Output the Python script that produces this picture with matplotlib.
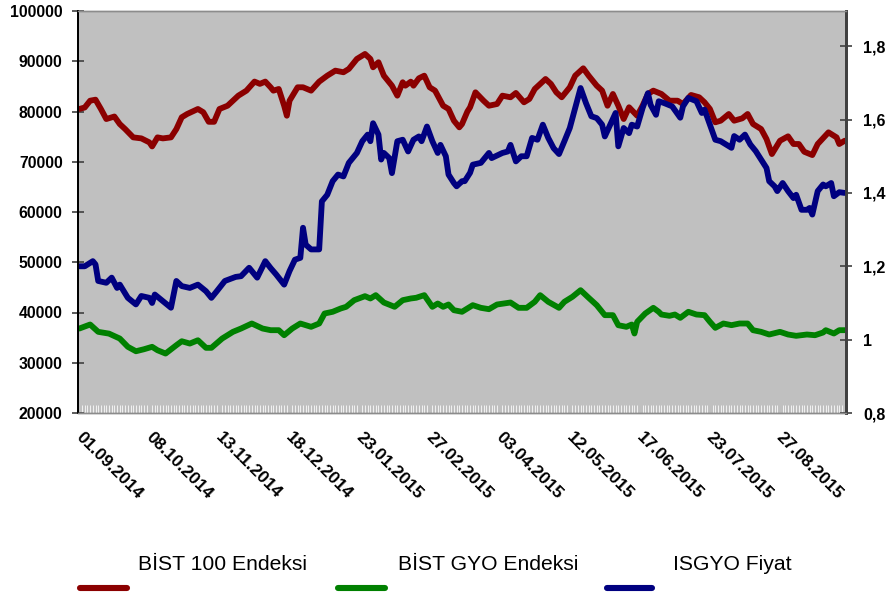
import matplotlib
matplotlib.use("Agg")
import matplotlib.pyplot as plt
from matplotlib.lines import Line2D

plt.rcParams['font.family'] = ['Liberation Sans', 'DejaVu Sans']

# ---------------- data ----------------
n_days = 285
date_labels = ["01.09.2014", "08.10.2014", "13.11.2014", "18.12.2014", "23.01.2015",
               "27.02.2015", "03.04.2015", "12.05.2015", "17.06.2015", "23.07.2015",
               "27.08.2015"]
label_days = [0, 26, 52, 78, 104, 130, 156, 182, 208, 234, 260]

bist100_days = [0, 2, 4, 6, 8, 10, 13, 15, 17, 20, 23, 26, 27, 29, 31, 34, 36, 38, 40, 44,
                46, 48, 50, 52, 55, 59, 62, 65, 67, 69, 71, 72, 74, 76, 77, 78, 81, 83, 86, 89,
                92, 95, 98, 100, 103, 106, 108, 109, 111, 113, 116, 118, 120, 121, 123, 124,
                126, 128, 130, 132, 135, 137, 139, 141, 142, 144, 145, 147, 150, 152, 155,
                157, 160, 162, 165, 167, 169, 173, 175, 177, 179, 182, 184, 187, 189, 192,
                194, 196, 198, 200, 202, 204, 207, 209, 211, 213, 216, 219, 222, 224, 227,
                230, 232, 234, 236, 238, 241, 243, 246, 248, 250, 253, 255, 257, 260, 263,
                265, 267, 269, 272, 274, 278, 281, 282, 284]
bist100 = [80500, 80800, 82150, 82350, 80500, 78500, 79000, 77500, 76500, 74850, 74650,
           73850, 73050, 74850, 74650, 74850, 76500, 78850, 79500, 80500, 79850, 77950,
           77950, 80500, 81150, 83150, 84150, 85950, 85500, 85950, 84800, 84150, 84480,
           81150, 79160, 82150, 84820, 84820, 84150, 85940, 87130, 88130, 87810, 88470,
           90460, 91450, 90460, 88800, 89800, 87130, 85140, 83150, 85820, 85140, 85940,
           85140, 86610, 87130, 84820, 84150, 81150, 80500, 78170, 76850, 77500, 80000,
           80840, 83820, 82150, 81150, 81490, 83150, 82830, 83690, 81830, 82490, 84480,
           86470, 85480, 83820, 82830, 84820, 87130, 88600, 87130, 85140, 84150, 81150,
           83490, 81150, 78510, 80840, 79160, 81150, 83490, 84150, 83490, 82150, 82150,
           81490, 83290, 82830, 81830, 80500, 77850, 78170, 79500, 78170, 78640, 79500,
           77510, 76510, 74520, 71530, 74180, 75060, 73530, 73530, 71990, 71330, 73530,
           75850, 74850, 73530, 74180]

gyo_days = [0, 4, 7, 11, 15, 18, 21, 24, 27, 29, 32, 36, 38, 41, 44, 47, 49, 53, 57, 60,
            64, 68, 71, 74, 76, 79, 82, 86, 89, 91, 94, 97, 99, 102, 106, 108, 110, 113,
            117, 120, 123, 125, 128, 131, 133, 135, 137, 139, 142, 144, 146, 149, 152, 155,
            160, 163, 166, 169, 171, 174, 178, 180, 183, 186, 189, 192, 195, 198, 200, 203,
            205, 206, 207, 210, 213, 215, 216, 219, 221, 223, 226, 229, 232, 234, 236, 239,
            242, 245, 248, 250, 253, 256, 260, 263, 266, 270, 273, 276, 277, 280, 282, 284]
gyo = [36810, 37610, 36150, 35800, 34820, 33170, 32290, 32690, 33170, 32490, 31830, 33490,
       34280, 33820, 34480, 32970, 32970, 34820, 36150, 36810, 37810, 36810, 36480, 36480,
       35480, 36810, 37810, 37150, 37810, 39800, 40140, 40800, 41130, 42450, 43250, 42790,
       43450, 41990, 41130, 42450, 42790, 42930, 43450, 41130, 41790, 41130, 41590, 40460,
       40140, 40800, 41460, 40930, 40660, 41590, 41990, 40930, 40930, 42130, 43450, 42130,
       40930, 42130, 43130, 44440, 42930, 41460, 39470, 39470, 37470, 37150, 37610, 35820,
       38140, 39800, 40930, 40140, 39600, 39340, 39600, 38940, 40140, 39600, 39470, 38150,
       36950, 37810, 37480, 37810, 37810, 36480, 36150, 35620, 36150, 35620, 35360, 35620,
       35480, 36020, 36480, 35820, 36480, 36480]

isgyo_days = [0, 2, 5, 6, 7, 10, 12, 14, 15, 18, 21, 23, 26, 27, 28, 31, 34, 36, 38, 41,
              44, 47, 49, 51, 54, 58, 60, 63, 66, 69, 71, 73, 76, 78, 80, 82, 83, 84, 86,
              89, 90, 92, 94, 96, 98, 100, 102, 103, 105, 107, 108, 109, 111, 112, 113, 115,
              116, 118, 120, 122, 124, 126, 127, 129, 131, 133, 134, 136, 137, 139, 140,
              142, 143, 145, 146, 149, 152, 153, 157, 159, 160, 162, 164, 166, 168, 170,
              172, 174, 176, 178, 180, 182, 184, 186, 188, 190, 192, 194, 195, 197, 199,
              200, 202, 204, 205, 207, 209, 211, 212, 214, 215, 217, 220, 223, 224, 226,
              229, 231, 232, 234, 236, 238, 240, 242, 243, 245, 247, 249, 251, 253, 255,
              256, 258, 259, 261, 263, 265, 266, 268, 270, 271, 272, 274, 276, 277, 279,
              280, 282, 284]
isgyo = [1.200, 1.200, 1.214, 1.205, 1.160, 1.155, 1.169, 1.141, 1.150, 1.114, 1.096, 1.119,
         1.114, 1.100, 1.123, 1.105, 1.087, 1.160, 1.146, 1.141, 1.150, 1.132, 1.114, 1.132,
         1.160, 1.171, 1.173, 1.196, 1.169, 1.214, 1.195, 1.178, 1.150, 1.187, 1.218, 1.223,
         1.305, 1.259, 1.246, 1.246, 1.377, 1.395, 1.432, 1.450, 1.445, 1.482, 1.500, 1.509,
         1.541, 1.559, 1.541, 1.590, 1.559, 1.491, 1.509, 1.495, 1.454, 1.541, 1.545, 1.513,
         1.545, 1.554, 1.541, 1.581, 1.541, 1.509, 1.531, 1.500, 1.450, 1.427, 1.418, 1.432,
         1.432, 1.455, 1.477, 1.482, 1.509, 1.495, 1.509, 1.513, 1.531, 1.486, 1.500, 1.500,
         1.550, 1.545, 1.586, 1.550, 1.522, 1.506, 1.541, 1.577, 1.631, 1.686, 1.645, 1.609,
         1.604, 1.586, 1.554, 1.586, 1.618, 1.527, 1.577, 1.563, 1.586, 1.581, 1.631, 1.672,
         1.640, 1.613, 1.650, 1.645, 1.636, 1.605, 1.636, 1.659, 1.650, 1.618, 1.627, 1.586,
         1.545, 1.541, 1.532, 1.523, 1.555, 1.545, 1.559, 1.532, 1.514, 1.491, 1.468, 1.432,
         1.418, 1.405, 1.427, 1.405, 1.386, 1.395, 1.354, 1.354, 1.359, 1.341, 1.405, 1.423,
         1.418, 1.427, 1.391, 1.402, 1.400]

series_names = ["BİST 100 Endeksi", "BİST GYO Endeksi", "ISGYO Fiyat"]
left_ticks = [20000, 30000, 40000, 50000, 60000, 70000, 80000, 90000, 100000]
right_ticks = [0.8, 1.0, 1.2, 1.4, 1.6, 1.8]
right_tick_labels = ["0,8", "1", "1,2", "1,4", "1,6", "1,8"]

# ---------------- style ----------------
c_red = "#8B0000"
c_green = "#008000"
c_blue = "#000080"
bg = "#C0C0C0"
lw = 4.2

fig = plt.figure(figsize=(8.87, 5.93), dpi=100)
ax = fig.add_axes([78 / 887, 1 - 413 / 593, (846 - 78) / 887, (413 - 11) / 593])
ax.set_facecolor(bg)
ax2 = ax.twinx()

line_kw = dict(lw=lw, solid_joinstyle="round", solid_capstyle="round")
ax.plot(bist100_days, bist100, color=c_red, **line_kw)
ax.plot(gyo_days, gyo, color=c_green, **line_kw)
ax2.plot(isgyo_days, isgyo, color=c_blue, **line_kw)

ax.set_xlim(-0.5, n_days - 0.5)
ax.set_ylim(20000, 100000)
ax2.set_ylim(0.8, 1.896)

ax.set_yticks(left_ticks)
ax.set_yticklabels([str(v) for v in left_ticks], fontsize=11.3, fontweight="bold")
ax2.set_yticks(right_ticks)
ax2.set_yticklabels(right_tick_labels, fontsize=11.5, fontweight="bold")

ax.tick_params(axis="y", direction="inout", length=8, width=1.2, color="#404040", pad=7)
ax2.tick_params(axis="y", direction="inout", length=9, width=1.2, color="#404040", pad=8)

# date labels, rotated, anchored at their tick positions
ax.set_xticks(label_days)
ax.set_xticklabels([])
ax.tick_params(axis="x", which="major", length=0)
for d, lab in zip(label_days, date_labels):
    ax.annotate(lab, xy=(d, 0), xycoords=ax.get_xaxis_transform(),
                xytext=(3, -12), textcoords="offset points",
                rotation=-45, rotation_mode="anchor", ha="left", va="top",
                fontsize=12.5, fontweight="bold", annotation_clip=False)
ax.set_xticks(range(n_days), minor=True)
ax.tick_params(axis="x", which="minor", direction="in", length=6, width=0.7, color="#f2f2f2")

for a in (ax, ax2):
    a.spines["left"].set_color("#000000")
    a.spines["left"].set_linewidth(1.3)
    a.spines["right"].set_color("#404040")
    a.spines["right"].set_linewidth(2.0)
    a.spines["top"].set_color("#8c8c8c")
    a.spines["top"].set_linewidth(1.0)
    a.spines["bottom"].set_color("#8c8c8c")
    a.spines["bottom"].set_linewidth(1.0)

# ---------------- legend (text above, line sample below) ----------------
leg_colors = [c_red, c_green, c_blue]
leg_line_x = [(80, 127), (338, 385), (607, 652)]
leg_text_x = [138, 398, 673]
W, H = 887.0, 593.0
for name, col, (x0, x1), tx in zip(series_names, leg_colors, leg_line_x, leg_text_x):
    fig.add_artist(Line2D([x0 / W, x1 / W], [1 - 588 / H, 1 - 588 / H], color=col,
                          lw=4.4, solid_capstyle="round", transform=fig.transFigure))
    fig.text(tx / W, 1 - 565 / H, name, fontsize=15.2, ha="left", va="center", color="#000000")

fig.savefig("out.png", dpi=100, facecolor="white")
